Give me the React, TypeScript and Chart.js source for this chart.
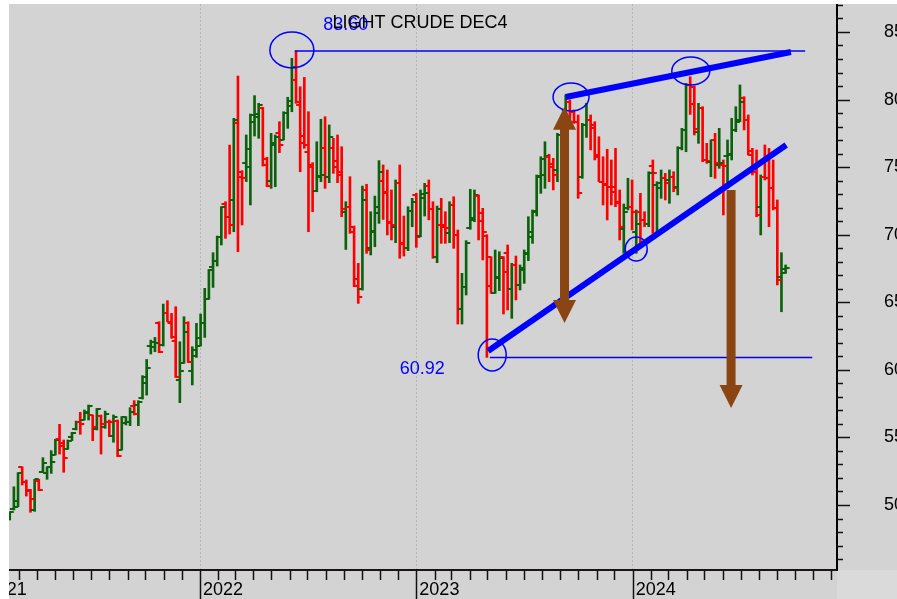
import React, { useEffect, useRef } from 'react';
import { Chart, registerables } from 'chart.js';

Chart.register(...registerables);

const FONT = "'Liberation Sans', Arial, Helvetica, sans-serif";
const chartTitle = 'LIGHT CRUDE DEC4';
const firstBarDate = '2021-02-14';
const barStepDays = 7;

const opens = [
  49.01, 49.68, 49.87, 52.79, 51.72, 51.11, 49.63, 51.80, 52.47, 52.39,
  52.79, 53.70, 54.86, 54.56, 54.12, 55.06, 55.60, 56.16, 56.29, 56.78,
  56.66, 55.60, 56.61, 55.80, 56.16, 55.10, 56.24, 54.07, 56.09, 56.16,
  57.32, 57.40, 57.89, 59.00, 61.76, 61.71, 63.44, 61.84, 64.18, 63.44,
  62.15, 59.24, 60.48, 63.49, 59.94, 61.02, 62.33, 63.49, 65.22, 67.63,
  68.08, 69.85, 72.27, 71.33, 72.57, 78.29, 74.29, 75.33, 75.03, 78.36,
  78.73, 79.35, 75.16, 74.00, 76.64, 77.50, 77.01, 78.98, 79.92, 81.45,
  79.60, 76.76, 76.14, 75.16, 73.26, 74.29, 76.44, 74.29, 76.39, 75.03,
  74.42, 71.70, 72.07, 70.54, 66.70, 65.95, 73.31, 68.99, 70.22, 72.02,
  73.99, 73.06, 70.89, 70.54, 73.80, 69.31, 68.99, 71.78, 72.94, 69.90,
  72.69, 73.60, 71.88, 68.37, 70.72, 70.72, 70.15, 72.20, 69.98, 64.48,
  66.15, 70.47, 71.21, 72.86, 71.58, 69.90, 68.32, 65.71, 66.77, 68.32,
  68.62, 65.96, 67.76, 66.28, 67.39, 68.62, 69.85, 71.78, 74.34, 74.42,
  75.78, 75.03, 74.79, 77.40, 79.20, 79.84, 79.10, 78.36, 74.24, 78.12,
  78.49, 77.87, 75.90, 73.92, 73.68, 73.55, 73.55, 72.44, 70.40, 71.95,
  72.07, 70.22, 71.70, 71.09, 70.79, 75.08, 73.70, 73.43, 74.17, 74.05,
  74.24, 73.50, 76.39, 77.75, 81.08, 80.93, 77.62, 79.35, 75.53, 75.40,
  77.01, 75.16, 75.16, 75.80, 75.90, 77.75, 78.49, 80.09, 78.49, 76.22,
  74.66, 72.02, 74.29, 74.17, 73.43, 71.95, 66.89, 67.45,
];

const highs = [
  49.50, 51.35, 52.39, 52.83, 51.85, 51.16, 51.90, 51.90, 53.50, 52.83,
  54.02, 54.86, 55.97, 54.81, 54.81, 55.38, 56.21, 56.86, 57.03, 57.40,
  56.66, 57.15, 56.66, 56.95, 56.29, 56.66, 56.29, 56.54, 56.54, 57.20,
  57.72, 57.72, 59.57, 60.77, 62.20, 62.40, 63.56, 64.87, 65.12, 64.18,
  64.67, 62.08, 63.93, 63.56, 61.71, 63.44, 64.13, 66.03, 67.43, 68.67,
  69.90, 72.07, 72.44, 76.63, 78.61, 81.74, 74.74, 77.38, 78.93, 80.29,
  79.72, 79.42, 75.73, 77.50, 77.38, 78.36, 79.10, 80.17, 83.05, 83.60,
  80.95, 81.64, 79.10, 75.33, 76.88, 78.54, 78.73, 78.12, 77.13, 77.38,
  76.51, 72.44, 74.29, 70.64, 67.88, 73.60, 73.73, 71.70, 72.86, 75.48,
  75.16, 74.79, 73.31, 74.05, 75.16, 71.38, 72.07, 72.69, 73.06, 73.31,
  73.80, 74.05, 72.44, 72.12, 72.69, 71.70, 72.44, 72.81, 70.35, 67.14,
  69.56, 73.36, 73.31, 72.94, 71.95, 70.00, 68.37, 68.87, 68.74, 68.37,
  69.24, 67.88, 68.42, 67.76, 68.87, 71.33, 71.83, 74.42, 75.77, 76.88,
  75.95, 75.65, 77.50, 78.80, 80.34, 79.97, 79.23, 78.86, 78.24, 79.72,
  78.86, 78.36, 77.25, 75.77, 76.32, 75.53, 76.39, 73.31, 72.27, 74.17,
  74.05, 71.83, 73.06, 71.70, 74.66, 75.53, 73.92, 74.79, 74.54, 74.79,
  74.66, 76.51, 77.87, 81.20, 81.69, 81.00, 79.72, 79.47, 76.76, 77.01,
  77.50, 77.87, 75.53, 77.01, 78.61, 79.47, 81.08, 80.21, 78.86, 76.39,
  76.27, 74.42, 76.64, 76.39, 75.53, 72.57, 68.67, 67.76,
];

const lows = [
  48.89, 49.63, 49.87, 51.48, 50.66, 49.46, 49.53, 51.06, 52.39, 51.90,
  52.34, 53.70, 53.77, 52.42, 54.12, 54.76, 55.55, 55.23, 56.29, 56.29,
  54.76, 55.55, 53.77, 55.67, 55.06, 54.64, 53.58, 54.07, 55.92, 55.87,
  56.66, 55.87, 57.84, 58.13, 61.17, 61.34, 61.27, 61.76, 63.56, 62.33,
  59.44, 57.57, 60.48, 60.55, 58.88, 60.92, 61.76, 62.40, 65.22, 66.10,
  67.68, 69.24, 69.73, 70.05, 70.22, 68.74, 70.72, 73.93, 72.20, 77.30,
  77.13, 75.08, 73.55, 73.43, 73.55, 76.07, 77.01, 77.87, 79.10, 79.72,
  74.66, 76.39, 70.22, 71.70, 73.18, 73.92, 73.43, 73.85, 74.54, 73.85,
  71.33, 68.91, 70.10, 66.15, 64.92, 65.90, 68.62, 68.50, 69.11, 70.84,
  71.13, 69.98, 69.61, 69.41, 68.25, 68.42, 68.82, 70.59, 69.06, 69.85,
  71.38, 71.10, 68.25, 67.93, 69.36, 69.36, 69.41, 68.99, 63.39, 63.39,
  65.54, 70.40, 70.96, 69.61, 68.13, 60.92, 65.66, 65.66, 65.86, 64.13,
  64.43, 63.81, 65.17, 65.91, 66.40, 68.08, 69.36, 71.38, 73.06, 73.43,
  73.92, 73.31, 73.92, 77.00, 78.90, 78.24, 78.24, 72.69, 74.17, 77.20,
  76.27, 75.53, 73.92, 72.20, 71.09, 72.20, 72.07, 69.61, 68.62, 71.83,
  70.35, 68.62, 69.36, 70.59, 70.59, 70.10, 69.98, 72.69, 72.57, 72.32,
  73.18, 72.94, 76.27, 76.14, 78.90, 77.38, 76.76, 75.40, 75.28, 74.29,
  74.17, 74.91, 71.46, 73.43, 75.53, 77.62, 78.36, 77.75, 75.90, 74.42,
  71.33, 69.98, 74.05, 70.59, 71.83, 66.28, 64.30, 67.14,
];

const closes = [
  49.46, 50.32, 52.34, 51.72, 51.06, 50.42, 51.90, 51.11, 53.13, 52.83,
  53.21, 54.81, 54.39, 53.50, 54.73, 55.35, 56.16, 55.99, 56.91, 57.32,
  55.75, 57.08, 55.97, 56.73, 56.14, 56.54, 53.62, 56.49, 56.16, 56.91,
  56.73, 57.65, 59.50, 60.16, 62.08, 62.00, 61.34, 64.18, 63.56, 62.40,
  59.49, 59.94, 62.82, 60.60, 61.46, 61.76, 63.49, 65.22, 67.38, 68.08,
  69.85, 72.02, 71.28, 70.72, 78.49, 74.66, 74.20, 76.37, 78.86, 78.93,
  79.60, 75.58, 73.60, 76.81, 77.20, 76.64, 79.03, 79.52, 82.38, 79.79,
  77.33, 76.66, 75.03, 73.26, 74.34, 74.42, 74.24, 77.25, 75.48, 74.66,
  71.88, 72.02, 70.22, 66.20, 65.41, 72.57, 68.87, 70.30, 71.63, 74.66,
  73.18, 70.96, 70.72, 73.80, 69.36, 68.99, 71.78, 72.44, 69.85, 73.01,
  73.06, 71.88, 68.37, 71.88, 70.59, 70.47, 72.20, 69.98, 64.48, 66.11,
  69.36, 71.09, 72.94, 71.04, 70.22, 66.20, 65.71, 66.89, 68.25, 67.26,
  65.96, 67.76, 66.28, 67.51, 68.57, 70.22, 71.70, 74.29, 75.58, 75.85,
  75.21, 74.42, 77.38, 78.50, 80.20, 78.36, 78.36, 73.11, 78.12, 78.49,
  78.12, 75.77, 73.92, 73.75, 73.55, 73.18, 72.32, 70.59, 71.70, 72.07,
  71.70, 70.79, 71.09, 70.79, 74.59, 74.54, 73.80, 74.17, 73.85, 74.29,
  73.43, 76.39, 77.75, 81.08, 79.70, 77.80, 79.35, 75.53, 75.48, 77.01,
  75.28, 75.28, 75.08, 75.95, 77.75, 78.36, 79.84, 78.49, 75.90, 74.66,
  71.46, 74.29, 74.17, 73.43, 71.95, 66.65, 67.19, 67.55,
];

const yearLabels = ['2021', '2022', '2023', '2024'];
const priceTickValues = [50, 55, 60, 65, 70, 75, 80, 85];

// axis windows (days since 2021-01-01, price)
const xAxisMinDay = 42.75;
const xAxisMaxDay = 1439.7;
const yAxisMin = 45.19;
const yAxisMax = 87.07;

const peakText = '83.60';
const lowText = '60.92';
const peakValue = 83.6;
const lowValue = 60.92;

// annotations in data coordinates
const rangeLines = [
  { from: '2022-06-10', to: '2024-10-18', value: peakValue },
  { from: '2023-05-05', to: '2024-10-30', value: lowValue },
];
const trendLines = [
  { fromDate: '2023-09-10', fromValue: 80.19, toDate: '2024-09-24', toValue: 83.52 },
  { fromDate: '2023-05-02', fromValue: 61.39, toDate: '2024-09-16', toValue: 76.64 },
];
const circleDates = ['2022-06-05', '2023-09-19', '2024-04-08', '2024-01-07', '2023-05-09'];
const circleValues = [83.67, 80.19, 82.11, 68.94, 61.10];
const circleRadii = [[22, 18], [18, 14], [19, 14], [11, 12], [14, 16]];
const arrows = [
  { date: '2023-09-08', from: 79.47, to: 63.47, both: true },
  { date: '2024-06-15', from: 73.31, to: 57.18, both: false },
];
const valueLabels = [
  { date: '2022-07-28', value: 85.48, text: peakText },
  { date: '2022-12-04', value: 60.06, text: lowText },
];

const EPOCH = Date.UTC(2021, 0, 1);
const DAY = 86400000;
const dayOf = (s: string) => {
  const [y, m, d] = s.split('-').map(Number);
  return (Date.UTC(y, m - 1, d) - EPOCH) / DAY;
};
const isYearStart = (v: number) => {
  const d = new Date(EPOCH + Math.round(v) * DAY);
  return d.getUTCMonth() === 0 && d.getUTCDate() === 1;
};
const yearOf = (v: number) => new Date(EPOCH + Math.round(v) * DAY).getUTCFullYear();

const GREEN = '#0b620b';
const RED = '#ff0000';
const BLUE = '#0000ff';
const BROWN = '#8b4513';
const BG = '#d3d3d3';

const zeroPadding = (s: any) => {
  s.paddingLeft = 0;
  s.paddingRight = 0;
  s.paddingTop = 0;
  s.paddingBottom = 0;
};

export default function App() {
  const ref = useRef<HTMLCanvasElement>(null);

  useEffect(() => {
    const canvas = ref.current as HTMLCanvasElement;
    const start = dayOf(firstBarDate);
    const barDays = opens.map((_, i) => start + i * barStepDays);
    const colors = opens.map((o, i) => (closes[i] >= o ? GREEN : RED));

    const monthTicks: number[] = [];
    for (let y = 2021; y <= 2024; y++) {
      for (let m = 0; m < 12; m++) monthTicks.push((Date.UTC(y, m, 1) - EPOCH) / DAY);
    }

    const plugin: any = {
      id: 'ohlcExtras',
      beforeDraw(chart: any) {
        const { ctx, width, height, chartArea } = chart;
        ctx.save();
        ctx.fillStyle = BG;
        ctx.fillRect(0, 0, width, height);
        ctx.fillStyle = '#dadada';
        ctx.fillRect(chartArea.right, chartArea.bottom, width - chartArea.right, height - chartArea.bottom);
        ctx.restore();
      },
      afterDatasetsDraw(chart: any) {
        const { ctx, chartArea } = chart;
        const xs = chart.scales.x;
        const ys = chart.scales.y;
        ctx.save();
        ctx.beginPath();
        ctx.rect(chartArea.left, chartArea.top, chartArea.right - chartArea.left, chartArea.bottom - chartArea.top);
        ctx.clip();
        // open / close ticks
        ctx.lineWidth = 2;
        barDays.forEach((d, i) => {
          const x = xs.getPixelForValue(d);
          const yo = Math.round(ys.getPixelForValue(opens[i]));
          const yc = Math.round(ys.getPixelForValue(closes[i]));
          ctx.strokeStyle = colors[i];
          ctx.beginPath();
          ctx.moveTo(x - 4, yo);
          ctx.lineTo(x, yo);
          ctx.moveTo(x, yc);
          ctx.lineTo(x + 4, yc);
          ctx.stroke();
        });

        // horizontal range lines
        ctx.strokeStyle = BLUE;
        ctx.lineWidth = 1.5;
        rangeLines.forEach((l) => {
          const y = ys.getPixelForValue(l.value);
          ctx.beginPath();
          ctx.moveTo(xs.getPixelForValue(dayOf(l.from)), y);
          ctx.lineTo(xs.getPixelForValue(dayOf(l.to)), y);
          ctx.stroke();
        });
        // trend lines
        ctx.lineWidth = 6;
        ctx.lineCap = 'butt';
        trendLines.forEach((t) => {
          ctx.beginPath();
          ctx.moveTo(xs.getPixelForValue(dayOf(t.fromDate)), ys.getPixelForValue(t.fromValue));
          ctx.lineTo(xs.getPixelForValue(dayOf(t.toDate)), ys.getPixelForValue(t.toValue));
          ctx.stroke();
        });
        // circles
        ctx.lineWidth = 1.5;
        circleDates.forEach((d, i) => {
          ctx.beginPath();
          ctx.ellipse(xs.getPixelForValue(dayOf(d)), ys.getPixelForValue(circleValues[i]), circleRadii[i][0], circleRadii[i][1], 0, 0, Math.PI * 2);
          ctx.stroke();
        });
        // arrows
        ctx.fillStyle = BROWN;
        const shaft = 4.5;
        const head = 11.5;
        const headLen = 23;
        arrows.forEach((a) => {
          const x = xs.getPixelForValue(dayOf(a.date));
          const y1 = ys.getPixelForValue(a.from);
          const y2 = ys.getPixelForValue(a.to);
          ctx.beginPath();
          const top = a.both ? y1 + headLen : y1;
          ctx.moveTo(x - shaft, top);
          ctx.lineTo(x - shaft, y2 - headLen);
          ctx.lineTo(x - head, y2 - headLen);
          ctx.lineTo(x, y2);
          ctx.lineTo(x + head, y2 - headLen);
          ctx.lineTo(x + shaft, y2 - headLen);
          ctx.lineTo(x + shaft, top);
          if (a.both) {
            ctx.lineTo(x + head, top);
            ctx.lineTo(x, y1);
            ctx.lineTo(x - head, top);
          }
          ctx.closePath();
          ctx.fill();
        });
        ctx.restore();

        // value labels
        ctx.save();
        ctx.fillStyle = BLUE;
        ctx.font = `18px ${FONT}`;
        ctx.textAlign = 'left';
        ctx.textBaseline = 'middle';
        valueLabels.forEach((v) => {
          ctx.fillText(v.text, xs.getPixelForValue(dayOf(v.date)), ys.getPixelForValue(v.value));
        });
        ctx.restore();
      },
      afterDraw(chart: any) {
        const { ctx, chartArea, width, height } = chart;
        const xs = chart.scales.x;
        const ys = chart.scales.y;
        ctx.save();
        ctx.strokeStyle = '#111111';
        ctx.lineWidth = 1.5;
        // price ticks (minor each unit, major each 5)
        for (let v = Math.ceil(yAxisMin); v <= Math.floor(yAxisMax); v++) {
          const y = Math.round(ys.getPixelForValue(v)) + 0.5;
          const len = v % 5 === 0 ? 13 : 6;
          ctx.beginPath();
          ctx.moveTo(chartArea.right, y);
          ctx.lineTo(chartArea.right + len, y);
          ctx.stroke();
        }
        // price labels (partly cut by the page edge, as in the original)
        ctx.fillStyle = '#000000';
        ctx.font = `18px ${FONT}`;
        ctx.textAlign = 'left';
        ctx.textBaseline = 'middle';
        priceTickValues.forEach((v) => {
          ctx.fillText(String(v), chartArea.right + 47, ys.getPixelForValue(v));
        });
        // month ticks, long year ticks
        monthTicks.forEach((v) => {
          const x = Math.round(xs.getPixelForValue(v)) + 0.5;
          if (x < chartArea.left || x > chartArea.right) return;
          ctx.beginPath();
          ctx.moveTo(x, chartArea.bottom);
          ctx.lineTo(x, isYearStart(v) ? height : chartArea.bottom + 10);
          ctx.stroke();
        });
        // title
        ctx.fillStyle = '#000000';
        ctx.textAlign = 'center';
        ctx.fillText(chartTitle, (chartArea.left + chartArea.right) / 2 - 3, 23);
        // white page border
        ctx.fillStyle = '#ffffff';
        ctx.fillRect(0, 0, chartArea.left, height);
        ctx.fillRect(0, 0, width, chartArea.top);
        ctx.restore();
      },
    };

    const chart = new Chart(canvas, {
      type: 'bar',
      data: {
        datasets: [
          {
            data: barDays.map((d, i) => ({ x: d, y: [lows[i], highs[i]] })) as any,
            backgroundColor: colors,
            borderWidth: 0,
            barThickness: 2,
            grouped: false,
          } as any,
        ],
      },
      options: {
        responsive: false,
        animation: false,
        events: [],
        layout: { autoPadding: false, padding: { left: 9, top: 4, right: 0, bottom: 0 } },
        plugins: { legend: { display: false }, tooltip: { enabled: false }, title: { display: false } },
        scales: {
          x: {
            type: 'linear',
            position: 'bottom',
            min: xAxisMinDay,
            max: xAxisMaxDay,
            offset: false,
            afterFit: (s: any) => { s.height = 29; zeroPadding(s); },
            afterBuildTicks: (s: any) => { s.ticks = monthTicks.map((v) => ({ value: v })); },
            ticks: {
              autoSkip: false,
              maxRotation: 0,
              minRotation: 0,
              align: 'start',
              labelOffset: 3,
              padding: 9,
              color: '#000000',
              font: { family: FONT, size: 18 },
              callback: (v: any) => (isYearStart(v) ? yearLabels[yearOf(v) - 2021] : ''),
            },
            grid: {
              offset: false,
              drawTicks: false,
              lineWidth: 1,
              color: (c: any) => (c.tick && isYearStart(c.tick.value) ? '#b4b4b4' : 'rgba(0,0,0,0)'),
            },
            border: { display: true, color: '#1c1414', width: 2, dash: [2, 2] },
          },
          y: {
            type: 'linear',
            position: 'right',
            min: yAxisMin,
            max: yAxisMax,
            beginAtZero: false,
            afterFit: (s: any) => { s.width = 60; zeroPadding(s); },
            afterBuildTicks: (s: any) => { s.ticks = priceTickValues.map((v) => ({ value: v })); },
            ticks: { display: false },
            grid: { drawOnChartArea: false, drawTicks: false },
            border: { display: true, color: '#000000', width: 2 },
          },
        },
      } as any,
      plugins: [plugin],
    });
    return () => chart.destroy();
  }, []);

  return (
    <div style={{ position: 'fixed', left: 0, top: 0, width: 897, height: 599, background: '#ffffff' }}>
      <canvas ref={ref} width={897} height={599} style={{ display: 'block', width: 897, height: 599 }} />
    </div>
  );
}
